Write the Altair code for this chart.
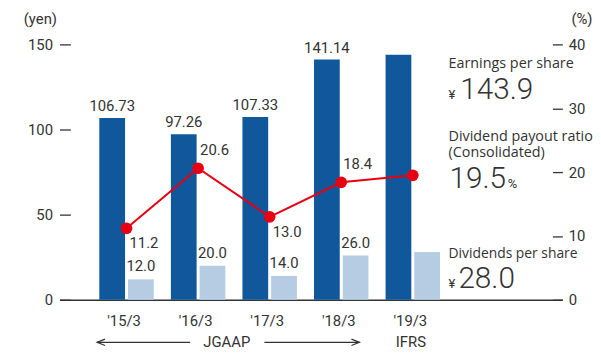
import altair as alt
import pandas as pd

# ---- data ----
categories = ["'15/3", "'16/3", "'17/3", "'18/3", "'19/3"]
eps = [106.73, 97.26, 107.33, 141.14, 143.9]
dividends = [12.0, 20.0, 14.0, 26.0, 28.0]
payout = [11.2, 20.6, 13.0, 18.4, 19.5]
eps_labels = ["106.73", "97.26", "107.33", "141.14", ""]
div_labels = ["12.0", "20.0", "14.0", "26.0", ""]
payout_labels = ["11.2", "20.6", "13.0", "18.4", ""]
payout_label_side = ["below", "above", "below", "above", "none"]

BLUE = "#11579c"
LIGHT = "#b5cce2"
RED = "#e60012"
TXT = "#333333"
NUM_FONT = "Roboto"
TXT_FONT = "Open Sans"

df = pd.DataFrame({
    "i": list(range(len(categories))),
    "cat": categories,
    "eps": eps,
    "div": dividends,
    "payout": payout,
    "eps_lab": eps_labels,
    "div_lab": div_labels,
    "pay_lab": payout_labels,
    "side": payout_label_side,
})

label_array = "[" + ",".join('"' + c + '"' for c in categories) + "]"

xscale = alt.Scale(domain=[-0.868, 6.02], nice=False, zero=False)
xaxis = alt.Axis(values=[0, 1, 2, 3, 4], labelExpr=label_array + "[datum.value]",
                 ticks=False, grid=False, domainColor=TXT, domainWidth=1.5,
                 labelFont=NUM_FONT, labelFontSize=15, labelColor=TXT, labelPadding=14,
                 labelOffset=-3, labelFlush=False, labelOverlap=False, title=None)
X = alt.X("i:Q", scale=xscale, axis=xaxis)

left_axis = alt.Axis(orient="left", values=[0, 50, 100, 150], offset=-11, tickSize=11,
                     tickColor=TXT, tickWidth=1.3, domain=False, grid=False,
                     labelPadding=7, labelFont=NUM_FONT, labelFontSize=15, labelColor=TXT,
                     title="(yen)", titleAngle=0, titleFont=NUM_FONT, titleFontSize=15,
                     titleFontWeight="normal", titleColor=TXT, titleAlign="right",
                     titleBaseline="alphabetic", titleX=-14, titleY=-21)
right_axis = alt.Axis(orient="right", values=[0, 10, 20, 30, 40], offset=-10, tickSize=10,
                      tickColor=TXT, tickWidth=1.3, domain=False, grid=False,
                      labelPadding=6, labelFont=NUM_FONT, labelFontSize=15, labelColor=TXT,
                      title="(%)", titleAngle=0, titleFont=NUM_FONT, titleFontSize=15,
                      titleFontWeight="normal", titleColor=TXT, titleAlign="right",
                      titleBaseline="alphabetic", titleX=40, titleY=-21)

yl_scale = alt.Scale(domain=[0, 150], nice=False)
yr_scale = alt.Scale(domain=[0, 40], nice=False)

base = alt.Chart(df)

eps_bars = base.mark_bar(width=26, xOffset=-14.5, color=BLUE).encode(
    x=X, y=alt.Y("eps:Q", scale=yl_scale, axis=left_axis))
div_bars = base.mark_bar(width=26, xOffset=14.5, color=LIGHT).encode(
    x=X, y=alt.Y("div:Q", scale=yl_scale, axis=left_axis))
eps_text = base.mark_text(xOffset=-14.5, dy=-12, font=NUM_FONT, fontSize=15, color=TXT).encode(
    x=X, y=alt.Y("eps:Q", scale=yl_scale, axis=left_axis), text="eps_lab:N")
div_text = base.mark_text(xOffset=14.5, dy=-13, font=NUM_FONT, fontSize=15, color=TXT).encode(
    x=X, y=alt.Y("div:Q", scale=yl_scale, axis=left_axis), text="div_lab:N")
left = alt.layer(eps_bars, div_bars, eps_text, div_text)

YR = alt.Y("payout:Q", scale=yr_scale, axis=right_axis)
line = base.mark_line(color=RED, strokeWidth=2).encode(x=X, y=YR)
pts = base.mark_point(filled=True, opacity=1, size=140, color=RED).encode(x=X, y=YR)
pay_below = base.transform_filter("datum.side == 'below'").mark_text(
    align="left", baseline="middle", dx=3, dy=15, font=NUM_FONT, fontSize=15, color=TXT
).encode(x=X, y=YR, text="pay_lab:N")
pay_above = base.transform_filter("datum.side == 'above'").mark_text(
    align="left", baseline="middle", dx=2, dy=-18, font=NUM_FONT, fontSize=15, color=TXT
).encode(x=X, y=YR, text="pay_lab:N")
right = alt.layer(line, pts, pay_below, pay_above)

one = alt.Data(values=[{"a": 1}])


def annot(text, x, y, size, font=TXT_FONT, align="left", baseline="alphabetic", weight="normal"):
    return alt.Chart(one).mark_text(align=align, baseline=baseline, font=font,
                                    fontSize=size, fontWeight=weight, color=TXT).encode(
        x=alt.value(x), y=alt.value(y), text=alt.value(text))


annots = [
    annot("Earnings per share", 393, 24, 14.5),
    annot("¥", 393, 55, 13, font=NUM_FONT),
    annot("143.9", 405, 55, 30, font=NUM_FONT, weight=300),
    annot("Dividend payout ratio", 393, 98, 14.5),
    annot("(Consolidated)", 393, 114, 14.5),
    annot("19.5", 394, 145, 30, font=NUM_FONT, weight=300),
    annot("%", 453, 145, 13, font=NUM_FONT),
    annot("Dividends per share", 393, 216, 14),
    annot("¥", 393, 246, 13, font=NUM_FONT),
    annot("28.0", 403, 246, 30, font=NUM_FONT, weight=300),
    annot("JGAAP", 169, 301, 15, font=NUM_FONT, align="center", baseline="middle"),
    annot("IFRS", 355, 301, 15, font=NUM_FONT, align="center", baseline="middle"),
]

arrow_lines = [
    alt.Chart(one).mark_rule(color=TXT, strokeWidth=1.2).encode(
        x=alt.value(38), x2=alt.value(132), y=alt.value(301)),
    alt.Chart(one).mark_rule(color=TXT, strokeWidth=1.2).encode(
        x=alt.value(207), x2=alt.value(303), y=alt.value(301)),
    alt.Chart(one).mark_point(shape="M1,-0.8L-1,0L1,0.8", filled=False, size=64,
                              color=TXT, strokeWidth=1.2, opacity=1).encode(
        x=alt.value(42), y=alt.value(301)),
    alt.Chart(one).mark_point(shape="M-1,-0.8L1,0L-1,0.8", filled=False, size=64,
                              color=TXT, strokeWidth=1.2, opacity=1).encode(
        x=alt.value(299), y=alt.value(301)),
]

chart = alt.layer(left, right, *annots, *arrow_lines).resolve_scale(y="independent").properties(
    width=508, height=258,
    autosize=alt.AutoSizeParams(type="none"),
    padding={"left": 52, "top": 35, "right": 31, "bottom": 52},
    background="white",
).configure_view(stroke=None)

chart.save("out.html", embed_options={"renderer": "svg", "actions": False})
